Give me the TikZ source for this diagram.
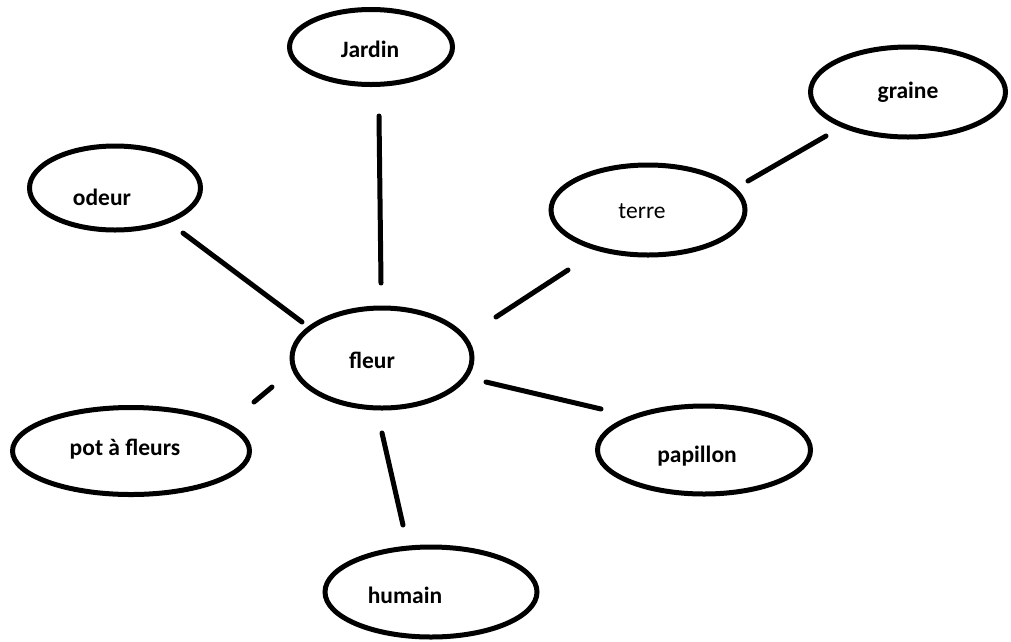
\documentclass[tikz,border=0pt]{standalone}
\usepackage{fontspec}
\setmainfont{Carlito}
\usetikzlibrary{shapes.geometric}
\tikzset{
  bubble/.style={draw=black, line width=5pt, ellipse, inner sep=0pt},
  lbl/.style={anchor=base, inner sep=0pt, font=\fontsize{23.5}{28}\selectfont\bfseries},
  lblreg/.style={anchor=base, inner sep=0pt, font=\fontsize{23.5}{28}\selectfont},
  link/.style={line width=5pt, line cap=round, black}
}
\begin{document}
\begin{tikzpicture}[x=1pt, y=-1pt]
\useasboundingbox (0,0) rectangle (1011,641);
% ellipses
\node[bubble, minimum width=163pt, minimum height=75pt] (jardin) at (371,47) {};
\node[bubble, minimum width=180pt, minimum height=100pt] (fleur) at (382,358) {};
\node[bubble, minimum width=237pt, minimum height=87pt] (pot) at (131,451) {};
\node[bubble, minimum width=194pt, minimum height=90pt] (terre) at (648,210) {};
\node[bubble, minimum width=195pt, minimum height=90pt] (graine) at (908,92) {};
\node[bubble, minimum width=212pt, minimum height=90pt] (humain) at (431,592) {};
\node[bubble, minimum width=171pt, minimum height=84pt] (odeur) at (115,188) {};
\node[bubble, minimum width=213pt, minimum height=88pt] (papillon) at (704,450) {};
% labels
\node[lbl] (jardinT) at (370,57) {Jardin};
\node[lbl] (fleurT) at (372,368) {fleur};
\node[lbl] (potT) at (125,455) {pot à fleurs};
\node[lblreg] (terreT) at (642,218) {terre};
\node[lbl] (graineT) at (908,98) {graine};
\node[lbl] (humainT) at (405,603) {humain};
\node[lbl] (odeurT) at (102,205) {odeur};
\node[lbl] (papillonT) at (697,462) {papillon};
% connector ends
\coordinate (j1) at (379,116); \coordinate (j2) at (381,283);
\coordinate (o1) at (183,233); \coordinate (o2) at (302,322);
\coordinate (t1) at (496,317); \coordinate (t2) at (568,270);
\coordinate (g1) at (748,181); \coordinate (g2) at (826,136);
\coordinate (p1) at (254,402); \coordinate (p2) at (272,387);
\coordinate (pa1) at (486,382); \coordinate (pa2) at (601,409);
\coordinate (h1) at (382,433); \coordinate (h2) at (403,525);
% connectors
\draw[link] (j1) -- (j2);
\draw[link] (o1) -- (o2);
\draw[link] (t1) -- (t2);
\draw[link] (g1) -- (g2);
\draw[link] (p1) -- (p2);
\draw[link] (pa1) -- (pa2);
\draw[link] (h1) -- (h2);
\end{tikzpicture}
\end{document}
